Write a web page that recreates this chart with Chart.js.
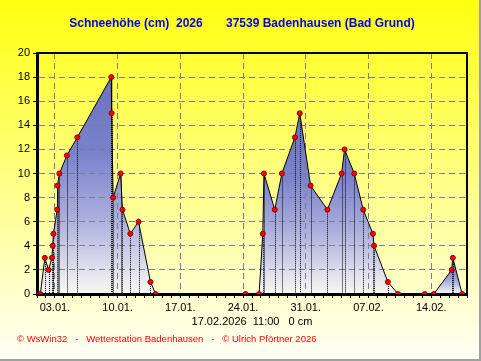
<!DOCTYPE html>
<html>
<head>
<meta charset="utf-8">
<script src="https://cdn.jsdelivr.net/npm/chart.js@4.4.1/dist/chart.umd.min.js"></script>
<style>
  body { margin: 0; background: #fff; }
  #snow { display: block; background: linear-gradient(#ffff10, #fffff8); }
</style>
</head>
<body>
<canvas id="snow" width="481" height="361"></canvas>
<script>
// Ablesezeitpunkte (TT.MM. hh:mm) und Schneehoehe in cm
const readTimes = [
  '01.01. 09:00', '01.01. 21:00', '02.01. 07:00', '02.01. 16:00', '02.01. 18:00',
  '02.01. 20:00', '03.01. 06:00', '03.01. 07:00', '03.01. 12:00', '04.01. 08:00',
  '05.01. 12:00', '09.01. 07:00', '09.01. 08:00', '09.01. 12:00', '10.01. 08:00',
  '10.01. 13:00', '11.01. 10:00', '12.01. 08:00', '13.01. 16:00', '14.01. 06:00',
  '24.01. 07:00', '25.01. 19:00', '26.01. 05:00', '26.01. 08:00', '27.01. 13:00',
  '28.01. 08:00', '29.01. 19:00', '30.01. 08:00', '31.01. 13:00', '02.02. 10:00',
  '04.02. 00:00', '04.02. 08:00', '05.02. 10:00', '06.02. 10:00', '07.02. 12:00',
  '07.02. 15:00', '09.02. 04:00', '10.02. 07:00', '13.02. 07:00', '14.02. 07:00',
  '16.02. 07:00', '16.02. 10:00', '17.02. 11:00'
];
const snowCm = [
  0, 3, 2, 3, 4,
  5, 7, 9, 10, 11.5,
  13, 18, 15, 8, 10,
  7, 5, 6, 1, 0,
  0, 0, 5, 10, 7,
  10, 13, 15, 9, 7,
  10, 12, 10, 7, 5,
  4, 1, 0, 0, 0,
  2, 3, 0
];
const xTickLabels = ['03.01.', '10.01.', '17.01.', '24.01.', '31.01.', '07.02.', '14.02.'];
const yTickLabels = ['0', '2', '4', '6', '8', '10', '12', '14', '16', '18', '20'];

const titleText = 'Schneehöhe (cm)  2026       37539 Badenhausen (Bad Grund)';
const lastReading = '17.02.2026  11:00   0 cm';
const footerText = '© WsWin32   -   Wetterstation Badenhausen   -   © Ulrich Pförtner 2026';

const FONT = "'Liberation Sans', Arial, sans-serif";
const GRID = '#7c7c98';

// Tage seit 01.01. 00:00
const toDay = function(s) {
  const d = parseInt(s.substr(0, 2), 10);
  const m = parseInt(s.substr(3, 2), 10);
  let day = (m === 2 ? 31 : 0) + d - 1;
  if (s.length > 7) {
    const t = s.substr(7).split(':');
    day += parseInt(t[0], 10) / 24 + parseInt(t[1], 10) / 1440;
  }
  return day;
};

const points = readTimes.map(function(t, i) { return { x: toDay(t), y: snowCm[i] }; });
const weekDays = xTickLabels.map(toDay);

// Schneeperioden: zwischen zwei Nullwerten, jede mit eigenem Verlauf
const blockOf = [];
const blockMax = {};
let zeros = 0;
snowCm.forEach(function(v, i) {
  if (v === 0) zeros++;
  blockOf.push(zeros);
  blockMax[zeros] = Math.max(blockMax[zeros] || 0, v);
});

const gradients = {};
const blockFill = function(ctx) {
  const chart = ctx.chart;
  const b = blockOf[ctx.p0DataIndex];
  if (!chart.chartArea || !blockMax[b]) return 'rgba(0,0,0,0)';
  if (!gradients[b]) {
    const y = chart.scales.y;
    const g = chart.ctx.createLinearGradient(0, y.getPixelForValue(blockMax[b]), 0, y.getPixelForValue(0));
    g.addColorStop(0, '#6a72ba');
    g.addColorStop(0.35, '#7a82cc');
    g.addColorStop(0.65, '#aaaedc');
    g.addColorStop(0.87, '#dcdcec');
    g.addColorStop(1, '#f8f8f4');
    gradients[b] = g;
  }
  return gradients[b];
};

// Rahmen
const frame = {
  id: 'frame',
  afterDraw(chart) {
    const c = chart.ctx;
    const a = chart.chartArea;
    c.save();
    c.strokeStyle = '#000';
    c.lineWidth = 2;
    c.beginPath();
    c.moveTo(a.left, a.top);
    c.lineTo(a.right, a.top);
    c.lineTo(a.right, a.bottom);
    c.stroke();
    c.strokeStyle = '#a0a0a0';
    c.beginPath();
    c.moveTo(chart.width - 1, 0);
    c.lineTo(chart.width - 1, chart.height - 1);
    c.lineTo(0, chart.height - 1);
    c.stroke();
    c.restore();
  }
};

// gepunktete Lote von jedem Messpunkt
const dropLines = {
  id: 'dropLines',
  beforeDatasetDraw(chart, args) {
    const meta = args.meta;
    const bottom = chart.scales.y.getPixelForValue(0);
    const c = chart.ctx;
    c.save();
    c.strokeStyle = '#000';
    c.lineWidth = 1;
    c.setLineDash([1, 1]);
    meta.data.forEach(function(p, i) {
      if (!snowCm[i]) return;
      const x = Math.round(p.x) + 0.5;
      c.beginPath();
      c.moveTo(x, p.y);
      c.lineTo(x, bottom);
      c.stroke();
    });
    c.restore();
  }
};

const days = [];
for (let d = 0; d <= 48; d++) days.push(d);

new Chart(document.getElementById('snow'), {
  type: 'line',
  data: {
    datasets: [{
      data: points,
      borderColor: '#000',
      borderWidth: 1,
      tension: 0,
      fill: 'origin',
      backgroundColor: '#8c92d0',
      segment: {
        backgroundColor: blockFill,
        borderDashOffset: function(ctx) { return blockOf[ctx.p0DataIndex] / 100; }
      },
      pointRadius: 2.5,
      pointBackgroundColor: '#ff0000',
      pointBorderColor: '#900000',
      pointBorderWidth: 1
    }]
  },
  options: {
    responsive: false,
    animation: false,
    events: [],
    layout: { padding: { left: 17, right: 14, top: 0, bottom: 0 } },
    scales: {
      x: {
        type: 'linear',
        min: 0,
        max: 48,
        afterBuildTicks(axis) { axis.ticks = days.map(function(v) { return { value: v }; }); },
        afterFit(axis) { axis.height = 39.8; },
        ticks: {
          autoSkip: false,
          maxRotation: 0,
          padding: 3,
          color: '#000',
          font: { family: FONT, size: 11 },
          callback(v) {
            const i = weekDays.indexOf(v);
            return i >= 0 ? xTickLabels[i] : '';
          }
        },
        grid: {
          color(ctx) {
            return ctx.tick && weekDays.indexOf(ctx.tick.value) >= 0 ? GRID : 'rgba(0,0,0,0)';
          },
          tickColor: '#000',
          tickLength: 4,
          lineWidth: 1
        },
        border: { color: '#000', width: 3, dash: [6, 4] },
        title: {
          display: true,
          text: lastReading,
          color: '#000',
          font: { family: FONT, size: 11 },
          padding: { top: 0, bottom: 5.2 }
        }
      },
      y: {
        min: 0,
        max: 20,
        afterFit(axis) { axis.width = 20; },
        ticks: {
          stepSize: 1,
          padding: 3,
          color: '#000',
          font: { family: FONT, size: 11 },
          callback(v) {
            return v % 2 === 0 ? yTickLabels[v / 2] : '';
          }
        },
        grid: {
          color(ctx) {
            return ctx.tick && ctx.tick.value % 2 === 0 ? GRID : 'rgba(0,0,0,0)';
          },
          tickColor: '#000',
          tickLength: 4,
          lineWidth: 1
        },
        border: { color: '#000', width: 3, dash: [6, 4] }
      }
    },
    plugins: {
      legend: { display: false },
      tooltip: { enabled: false },
      filler: { drawTime: 'beforeDraw' },
      title: {
        display: true,
        text: titleText,
        color: '#0000ee',
        font: { family: FONT, size: 12, weight: 'bold' },
        padding: { top: 16, bottom: 22.6 }
      },
      subtitle: {
        display: true,
        position: 'bottom',
        align: 'start',
        text: footerText,
        color: '#ff0000',
        font: { family: FONT, size: 9.5 },
        padding: { top: 0, bottom: 15.8 }
      }
    }
  },
  plugins: [frame, dropLines]
});
</script>
</body>
</html>
